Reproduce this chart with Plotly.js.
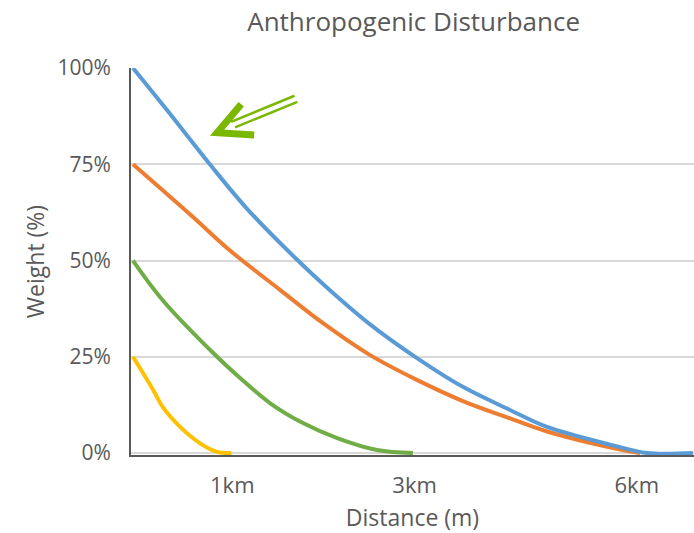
<!DOCTYPE html>
<html>
<head>
<meta charset="utf-8">
<script src="https://cdn.plot.ly/plotly-3.0.1.min.js"></script>
<style>html,body{margin:0;padding:0;background:#fff;}#chart{width:694px;height:533px;}</style>
</head>
<body>
<div id="chart"></div>
<script>
// Distance position (index along the category-like axis) and weights (%)
var tickPositions = [17.7, 50.2, 89.8];
var tickLabels = ['1km', '3km', '6km'];

var blueX   = [0, 6.1, 13.7, 20.3, 29.4, 35.1, 42.2, 50.3, 58.8, 67.2, 73.8, 85.6, 91.6, 99.8];
var blueY   = [100, 89, 75, 63.5, 50, 42.3, 33.5, 25, 17.2, 11.2, 6.8, 2.0, 0, 0];

var orangeX = [0, 10.7, 17.3, 26.2, 34.0, 42.2, 50.6, 58.8, 67.2, 73.8, 85.6, 90.4];
var orangeY = [75, 61.3, 52.6, 42.4, 33.6, 25.5, 19, 13.5, 9, 5.6, 1.3, 0];

var greenX  = [0, 5.3, 14.3, 19.1, 24.4, 30.3, 36.4, 43.5, 49.9];
var greenY  = [50, 39.7, 26, 19.5, 13, 7.8, 3.9, 0.8, 0];

var yellowX = [0, 3.6, 5.3, 8.4, 11.9, 15.0, 17.5];
var yellowY = [25, 16.4, 12, 6.8, 2.6, 0.3, 0];

var font = 'Open Sans, Noto Sans, sans-serif';
var grey = '#595959';

function line(x, y, color) {
  return {x: x, y: y, type: 'scatter', mode: 'lines', line: {color: color, width: 4, shape: 'spline', smoothing: 1}, hoverinfo: 'skip'};
}

var data = [
  line(yellowX, yellowY, '#FFC000'),
  line(greenX, greenY, '#70AD47'),
  line(orangeX, orangeY, '#ED7D31'),
  line(blueX, blueY, '#5B9BD5')
];

var arrowColor = '#7AB800';
var layout = {
  width: 694, height: 533,
  margin: {l: 131, r: 0, t: 68, b: 78},
  paper_bgcolor: '#fff', plot_bgcolor: '#fff',
  showlegend: false,
  font: {family: font, color: grey, size: 21},
  title: {text: 'Anthropogenic Disturbance', font: {family: font, size: 26, color: grey}, x: 0.596, xanchor: 'center', y: 0.958, yanchor: 'middle'},
  xaxis: {
    range: [-0.35, 100], tickvals: tickPositions, ticktext: tickLabels,
    showgrid: false, zeroline: false, showline: true, linecolor: grey, linewidth: 2,
    ticks: '', ticklabelstandoff: 10, layer: 'below traces',
    tickfont: {family: font, size: 22, color: grey},
    title: {text: 'Distance (m)', font: {family: font, size: 23, color: grey}, standoff: 16}
  },
  yaxis: {
    range: [-0.5, 100], tickvals: [0, 25, 50, 75, 100], ticktext: ['0%', '25%', '50%', '75%', '100%'],
    showgrid: true, gridcolor: '#D9D9D9', gridwidth: 2, zeroline: false,
    showline: true, linecolor: grey, linewidth: 2, ticks: '', ticklabelstandoff: 14, layer: 'below traces',
    tickfont: {family: font, size: 21, color: grey},
    title: {text: 'Weight (%)', font: {family: font, size: 23, color: grey}, standoff: 6}
  },
  shapes: [
    {type: 'path', xref: 'x', yref: 'y', path: 'M 19.3 90.6 L 15.0 83.2 L 21.6 82.6', line: {color: arrowColor, width: 7}},
    {type: 'line', xref: 'x', yref: 'y', x0: 28.8, y0: 92.8, x1: 17.5, y1: 86.0, line: {color: arrowColor, width: 2.5}},
    {type: 'line', xref: 'x', yref: 'y', x0: 29.3, y0: 91.2, x1: 18.2, y1: 84.6, line: {color: arrowColor, width: 2.5}}
  ]
};

Plotly.newPlot('chart', data, layout, {displayModeBar: false, staticPlot: true});
</script>
</body>
</html>
